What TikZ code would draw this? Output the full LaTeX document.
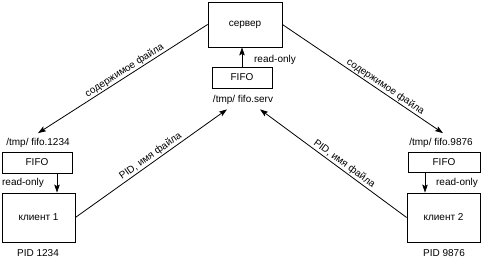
\documentclass[tikz,border=0pt]{standalone}
\usepackage{fontspec}
\setmainfont{Liberation Sans}
\usepackage{tikz}
\usetikzlibrary{arrows.meta,positioning,calc}

\begin{document}
\begin{tikzpicture}[x=1pt,y=1pt,font=\fontsize{10}{12}\selectfont,
  box/.style={draw,line width=0.8pt,align=center,inner sep=1pt},
  lbl/.style={inner sep=1pt},
  arr/.style={-{Stealth[length=8pt,width=5.5pt,inset=1.5pt]},line width=0.8pt}]
\useasboundingbox (0,0) rectangle (481,261);
% server side
\node[box,minimum width=74pt,minimum height=45pt] (srv) at (245,236.5) {сервер};
\node[box,minimum width=60pt,minimum height=21pt] (sfifo) at (242,183.5) {FIFO};
\node[lbl] (spath) at (243,161) {/tmp/ fifo.serv};
\node[lbl] (sro) at (275,201) {read-only};
% client 1
\node[box,minimum width=70pt,minimum height=21pt] (cfifo1) at (37,98.5) {FIFO};
\node[box,minimum width=73pt,minimum height=49pt] (cli1) at (38.5,43.5) {клиент 1};
\node[lbl] (cpath1) at (38,118) {/tmp/ fifo.1234};
\node[lbl] (cro1) at (23,78) {read-only};
\node[lbl] (pid1) at (38,8) {PID 1234};
% client 2
\node[box,minimum width=72pt,minimum height=20pt] (cfifo2) at (444,99) {FIFO};
\node[box,minimum width=73pt,minimum height=49pt] (cli2) at (443.5,43.5) {клиент 2};
\node[lbl] (cpath2) at (441,118) {/tmp/ fifo.9876};
\node[lbl] (cro2) at (457,78) {read-only};
\node[lbl] (pid2) at (444,8) {PID 9876};
% reading ends
\draw[arr] (sfifo.north) -- (sfifo.north |- srv.south);
\draw[arr] ($(cfifo1.south)+(20,0)$) -- ($(cli1.north)+(18.5,0)$);
\draw[arr] ($(cfifo2.south)+(-19,0)$) -- ($(cli2.north)+(-18.5,0)$);
% requests and replies
\draw[arr] (cli1.east) -- node[lbl,above,sloped,pos=0.52]{PID, имя файла} ($(spath.south)+(-16,-3.5)$);
\draw[arr] (cli2.west) -- node[lbl,above,sloped,pos=0.45]{PID, имя файла} ($(spath.south)+(17,-3.5)$);
\draw[arr] (srv.west) -- node[lbl,above,sloped,pos=0.47]{содержимое файла} ($(cpath1.north)+(0,4)$);
\draw[arr] (srv.east) -- node[lbl,above,sloped,pos=0.62]{содержимое файла} ($(cpath2.north)+(2,4)$);
\end{tikzpicture}
\end{document}
